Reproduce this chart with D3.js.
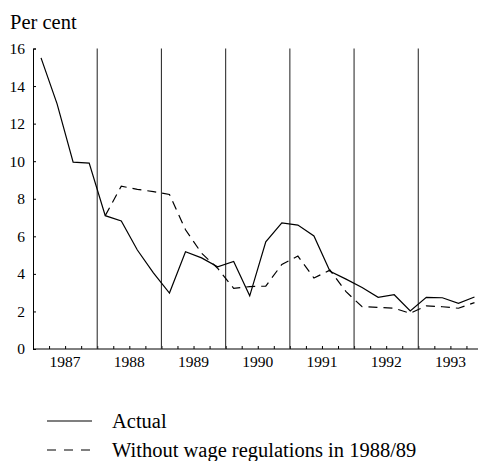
<!DOCTYPE html>
<html>
<head>
<meta charset="utf-8">
<script src="https://cdn.jsdelivr.net/npm/d3@7"></script>
<style>
  body { margin: 0; background: #fff; }
  svg { display: block; font-family: "Liberation Serif", "Times New Roman", serif; }
</style>
</head>
<body>
<svg id="chart" width="478" height="461"></svg>
<script>
// quarterly data, 1987Q1 .. 1993Q4
const years = [1987, 1988, 1989, 1990, 1991, 1992, 1993];
const actual = [15.5, 13.05, 9.95, 9.9, 7.1, 6.82, 5.27, 4.05, 2.98, 5.18, 4.85, 4.38,
  4.66, 2.83, 5.71, 6.72, 6.6, 6.02, 4.14, 3.72, 3.28, 2.75, 2.89, 2.03, 2.75, 2.73, 2.43, 2.77];
const withoutRegs = [null, null, null, null, 7.1, 8.67, 8.5, 8.38, 8.23, 6.35, 5.1, 4.3,
  3.23, 3.32, 3.35, 4.5, 4.95, 3.78, 4.2, 3.05, 2.25, 2.22, 2.17, 1.9, 2.3, 2.25, 2.17, 2.47];
const yTicks = [0, 2, 4, 6, 8, 10, 12, 14, 16];
const legendItems = ['Actual', 'Without wage regulations in 1988/89'];

const svg = d3.select('#chart');
const margin = { left: 33, top: 48.5, bottom: 349 };

const x = d3.scaleLinear().domain([1987, 1994]).range([33, 482.5]);
const y = d3.scaleLinear().domain([0, 16]).range([margin.bottom, margin.top]);

// title
svg.append('text').attr('x', 10).attr('y', 29).attr('font-size', 20.5).text('Per cent');

// y axis
const yAxis = svg.append('g')
  .attr('transform', `translate(${margin.left},0)`)
  .call(d3.axisLeft(y).tickValues(yTicks).tickSize(-3).tickPadding(8).tickFormat(d3.format('d')));
yAxis.select('.domain').attr('stroke', '#000');
yAxis.selectAll('text').attr('font-size', 15.5).attr('font-family', 'Liberation Serif').attr('fill', '#000');

// x axis: quarter ticks pointing up
const quarterTicks = d3.range(0, 28).map(i => 1987 + i / 4);
const xAxis = svg.append('g')
  .attr('transform', `translate(0,${margin.bottom})`)
  .call(d3.axisBottom(x).tickValues(quarterTicks).tickSize(-3).tickFormat(''));
xAxis.select('.domain').attr('d', `M${margin.left},0H478`).attr('stroke', '#000');

// year labels, centred in each year
svg.append('g').selectAll('text').data(years).join('text')
  .attr('x', d => x(d + 0.5))
  .attr('y', 367)
  .attr('text-anchor', 'middle')
  .attr('font-size', 15.5)
  .text(d => d);

// year separators
svg.append('g').selectAll('line').data(years.slice(1)).join('line')
  .attr('x1', d => x(d)).attr('x2', d => x(d))
  .attr('y1', margin.top).attr('y2', margin.bottom)
  .attr('stroke', '#333').attr('stroke-width', 1.1);

// series
const xq = i => x(1987 + (i + 0.5) / 4);
const line = d3.line()
  .defined(d => d != null)
  .x((d, i) => xq(i))
  .y(d => y(d));

svg.append('path').datum(withoutRegs)
  .attr('d', line)
  .attr('fill', 'none').attr('stroke', '#000').attr('stroke-width', 1.2)
  .attr('stroke-dasharray', '9,6');

svg.append('path').datum(actual)
  .attr('d', line)
  .attr('fill', 'none').attr('stroke', '#000').attr('stroke-width', 1.2);

// legend
const legend = svg.append('g');
legendItems.forEach((label, i) => {
  const ly = 421 + i * 29;
  legend.append('line')
    .attr('x1', 47).attr('x2', 92).attr('y1', ly).attr('y2', ly)
    .attr('stroke', '#000').attr('stroke-width', 1.2)
    .attr('stroke-dasharray', i ? '9,8' : null);
  legend.append('text')
    .attr('x', 112).attr('y', ly + 7)
    .attr('font-size', 20.5)
    .text(label);
});
</script>
</body>
</html>
